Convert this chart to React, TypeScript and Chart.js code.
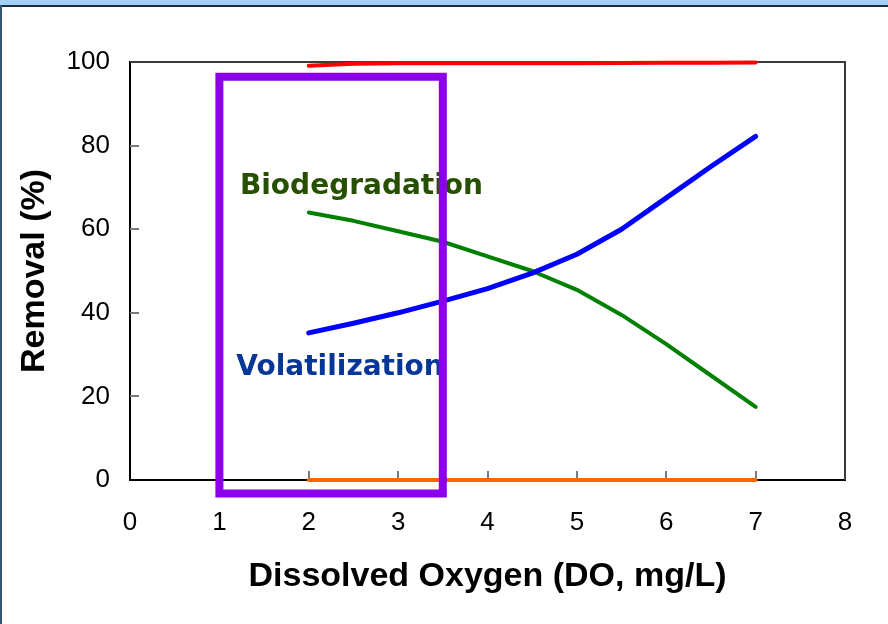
import React, { useEffect, useRef } from 'react';
import { Chart, registerables } from 'chart.js';

Chart.register(...registerables);

// Dissolved oxygen (mg/L) sample points
const doValues = [2, 2.5, 3, 3.5, 4, 4.5, 5, 5.5, 6, 6.5, 7];
// Removal (%) series
const totalRemoval = [99.1, 99.6, 99.7, 99.7, 99.7, 99.7, 99.7, 99.75, 99.8, 99.85, 99.9];
const biodegradation = [64, 62, 59.5, 57, 53.5, 50, 45.5, 39.5, 32.5, 25, 17.5];
const volatilization = [35.2, 37.5, 40, 42.8, 45.8, 49.5, 54, 60, 67.5, 75, 82.2];
const sorption = [0, 0, 0, 0, 0, 0, 0, 0, 0, 0, 0];
// Highlight box corners (DO, removal %)
const boxX = [1, 1, 3.5, 3.5, 1];
const boxY = [96.5, -3.2, -3.2, 96.5, 96.5];
// Axis ticks
const xTicks = [0, 1, 2, 3, 4, 5, 6, 7, 8];
const yTicks = [0, 20, 40, 60, 80, 100];
// Series labels
const seriesLabels = ['Biodegradation', 'Volatilization'];

const toPts = (xs: number[], ys: number[]) => xs.map((x, i) => ({ x, y: ys[i] }));

const decorPlugin = {
  id: 'decor',
  beforeDatasetsDraw(chart: any) {
    const { ctx, chartArea: a, scales } = chart;
    const x = scales.x;
    const y = scales.y;
    ctx.save();
    // top & right frame
    ctx.strokeStyle = '#3a3a3a';
    ctx.lineWidth = 2;
    ctx.beginPath();
    ctx.moveTo(a.left, a.top);
    ctx.lineTo(a.right, a.top);
    ctx.lineTo(a.right, a.bottom);
    ctx.stroke();
    // inward tick marks
    ctx.strokeStyle = '#7a7a7a';
    ctx.lineWidth = 2;
    ctx.beginPath();
    yTicks.forEach((v) => {
      if (v === 0 || v === 100) return;
      const py = Math.round(y.getPixelForValue(v));
      ctx.moveTo(a.left, py);
      ctx.lineTo(a.left + 9, py);
    });
    xTicks.forEach((v) => {
      if (v === 0 || v === 8) return;
      const px = Math.round(x.getPixelForValue(v));
      ctx.moveTo(px, a.bottom);
      ctx.lineTo(px, a.bottom - 9);
    });
    ctx.stroke();
    // series labels
    ctx.font = 'bold 28px "DejaVu Sans", Verdana, sans-serif';
    ctx.textAlign = 'left';
    ctx.textBaseline = 'alphabetic';
    ctx.fillStyle = '#264f00';
    ctx.fillText(seriesLabels[0], x.getPixelForValue(1.23), y.getPixelForValue(68.5));
    ctx.fillStyle = '#073699';
    ctx.fillText(seriesLabels[1], x.getPixelForValue(1.19), y.getPixelForValue(25.1));
    ctx.restore();
  },
};

export default function App() {
  const ref = useRef<HTMLCanvasElement | null>(null);

  useEffect(() => {
    if (!ref.current) return;
    const lineBase = {
      pointRadius: 0,
      tension: 0,
      clip: false as any,
      borderCapStyle: 'round' as const,
      borderJoinStyle: 'round' as const,
      fill: false,
    };
    const chart = new Chart(ref.current, {
      type: 'line',
      data: {
        datasets: [
          {
            ...lineBase,
            label: 'box',
            data: toPts(boxX, boxY),
            borderColor: '#8b00e8',
            borderWidth: 8,
            borderCapStyle: 'square',
            borderJoinStyle: 'miter',
          },
          { ...lineBase, label: 'Volatilization', data: toPts(doValues, volatilization), borderColor: '#0000ff', borderWidth: 5 },
          { ...lineBase, label: 'Biodegradation', data: toPts(doValues, biodegradation), borderColor: '#008000', borderWidth: 4 },
          { ...lineBase, label: 'Total', data: toPts(doValues, totalRemoval), borderColor: '#ff0000', borderWidth: 4 },
          { ...lineBase, label: 'Sorption', data: toPts(doValues, sorption), borderColor: '#ff6600', borderWidth: 4 },
        ],
      },
      options: {
        responsive: false,
        animation: false,
        events: [],
        layout: { padding: { top: 62, right: 43, left: 0, bottom: 0 } },
        plugins: { legend: { display: false }, tooltip: { enabled: false } },
        scales: {
          x: {
            type: 'linear',
            min: 0,
            max: 8,
            afterFit: (s: any) => { s.height = 144; },
            afterBuildTicks: (s: any) => { s.ticks = xTicks.map((v) => ({ value: v })); },
            ticks: {
              stepSize: 1,
              color: '#000',
              padding: 27,
              font: { family: '"Liberation Sans", Arial, sans-serif', size: 26 },
            },
            grid: { drawOnChartArea: false, drawTicks: false },
            border: { display: true, color: '#000', width: 2 },
            title: {
              display: true,
              text: 'Dissolved Oxygen (DO, mg/L)',
              color: '#000',
              font: { family: '"Liberation Sans", Arial, sans-serif', size: 34, weight: 'bold', lineHeight: 1.2 },
              padding: { top: 0, bottom: 27 },
            },
          },
          y: {
            type: 'linear',
            min: 0,
            max: 100,
            afterFit: (s: any) => { s.width = 130; },
            afterBuildTicks: (s: any) => { s.ticks = yTicks.map((v) => ({ value: v })); },
            ticks: {
              stepSize: 20,
              color: '#000',
              padding: 20,
              font: { family: '"Liberation Sans", Arial, sans-serif', size: 26 },
            },
            grid: { drawOnChartArea: false, drawTicks: false },
            border: { display: true, color: '#000', width: 2 },
            title: {
              display: true,
              text: 'Removal (%)',
              color: '#000',
              font: { family: '"Liberation Sans", Arial, sans-serif', size: 34, weight: 'bold', lineHeight: 1.2 },
              padding: { top: 14, bottom: 0 },
            },
          },
        },
      },
      plugins: [decorPlugin],
    });
    return () => chart.destroy();
  }, []);

  return (
    <div style={{ position: 'fixed', left: 0, top: 0, width: 888, height: 624, background: '#fff', overflow: 'hidden' }}>
      <div style={{ position: 'absolute', left: 0, top: 0, width: 888, height: 5, background: '#a3d1f7' }} />
      <div style={{ position: 'absolute', left: 0, top: 5, width: 888, height: 2, background: '#1f2d3b' }} />
      <div style={{ position: 'absolute', left: 0, top: 5, width: 2, height: 619, background: '#355577' }} />
      <canvas ref={ref} width={888} height={624} style={{ position: 'absolute', left: 0, top: 0 }} />
    </div>
  );
}
